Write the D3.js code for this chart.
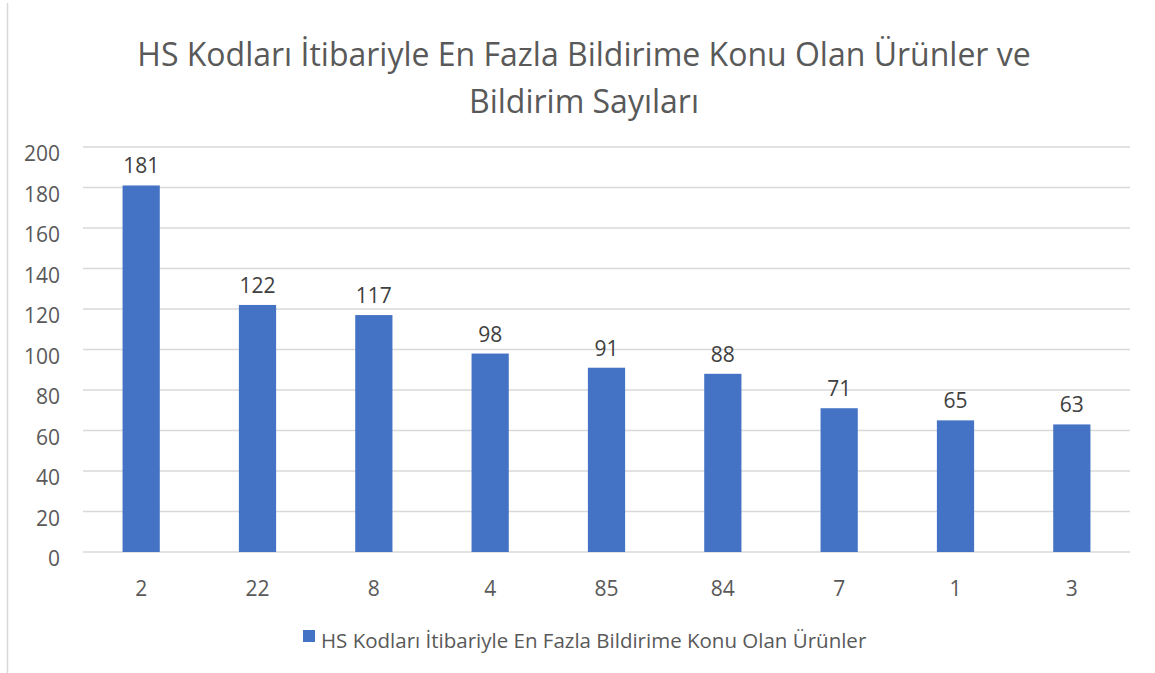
<!DOCTYPE html>
<html>
<head>
<meta charset="utf-8">
<script src="https://cdn.jsdelivr.net/npm/d3@7"></script>
<style>
body{margin:0;background:#fff}
text{font-family:"Open Sans",sans-serif}
</style>
</head>
<body>
<div id="chart"></div>
<script>
const categories=["2","22","8","4","85","84","7","1","3"]
const values=[181,122,117,98,91,88,71,65,63]
const yTicks=[0,20,40,60,80,100,120,140,160,180,200]
const titleLines=["HS Kodları İtibariyle En Fazla Bildirime Konu Olan Ürünler ve","Bildirim Sayıları"]
const seriesName="HS Kodları İtibariyle En Fazla Bildirime Konu Olan Ürünler"

const width=1155
const height=673
const margin={left:83,right:25,top:147,bottom:121}

const svg=d3.select("#chart")
.append("svg")
.attr("width",width)
.attr("height",height)

// chart area border (left edge visible)
svg.append("line")
.attr("x1",7.5).attr("x2",7.5)
.attr("y1",3).attr("y2",height)
.attr("stroke","#d9d9d9")
.attr("stroke-width",1.5)

const x=d3.scaleBand()
.domain(categories)
.range([margin.left,width-margin.right])

const y=d3.scaleLinear()
.domain([0,200])
.range([height-margin.bottom,margin.top])

svg.append("g")
.selectAll("line")
.data(yTicks)
.enter()
.append("line")
.attr("x1",margin.left)
.attr("x2",width-margin.right)
.attr("y1",d=>y(d))
.attr("y2",d=>y(d))
.attr("stroke","#d9d9d9")
.attr("stroke-width",1.5)

svg.append("g")
.selectAll("text")
.data(yTicks)
.enter()
.append("text")
.attr("x",60)
.attr("y",d=>y(d)+14)
.attr("text-anchor","end")
.attr("font-size",21)
.attr("fill","#595959")
.text(d=>d)

const barW=x.bandwidth()*0.32

svg.append("g")
.selectAll("rect")
.data(values)
.enter()
.append("rect")
.attr("x",(d,i)=>x(categories[i])+x.bandwidth()/2-barW/2)
.attr("width",barW)
.attr("y",d=>y(d))
.attr("height",d=>y(0)-y(d))
.attr("fill","#4472c4")

svg.append("g")
.selectAll("text")
.data(values)
.enter()
.append("text")
.attr("x",(d,i)=>x(categories[i])+x.bandwidth()/2)
.attr("y",d=>y(d)-12)
.attr("text-anchor","middle")
.attr("font-size",21)
.attr("fill","#404040")
.text(d=>d)

svg.append("g")
.selectAll("text")
.data(categories)
.enter()
.append("text")
.attr("x",d=>x(d)+x.bandwidth()/2)
.attr("y",y(0)+44)
.attr("text-anchor","middle")
.attr("font-size",21)
.attr("fill","#595959")
.text(d=>d)

svg.append("g")
.selectAll("text")
.data(titleLines)
.enter()
.append("text")
.attr("x",584)
.attr("y",(d,i)=>66+i*47)
.attr("text-anchor","middle")
.attr("font-size",32)
.attr("fill","#595959")
.text(d=>d)

const legend=svg.append("g")
legend.append("rect")
.attr("x",303).attr("y",630)
.attr("width",12).attr("height",12)
.attr("fill","#4472c4")
legend.append("text")
.attr("x",321).attr("y",648)
.attr("font-size",20.5)
.attr("fill","#595959")
.text(seriesName)
</script>
</body>
</html>
